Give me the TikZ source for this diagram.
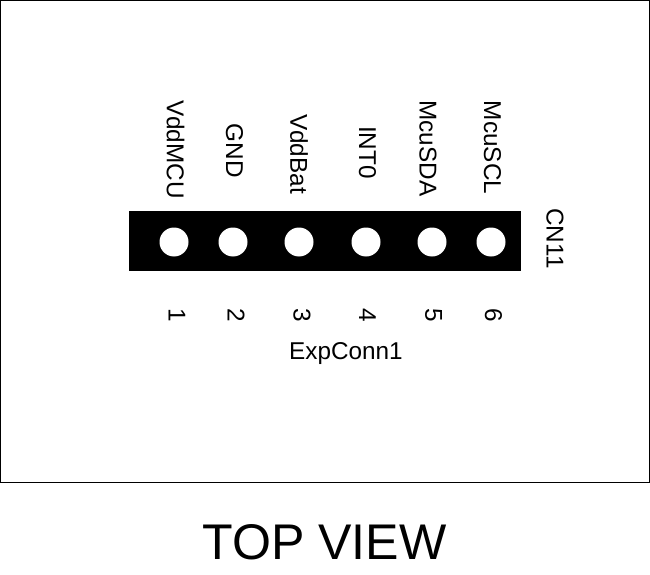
\documentclass[tikz,border=0pt]{standalone}
\usepackage{fontspec}
\setmainfont{Liberation Sans}
\tikzset{
 pin/.style={circle,fill=white,minimum size=29bp,inner sep=0pt},
 vlabel/.style={rotate=-90,font=\fontsize{24.4}{28}\selectfont,inner sep=0pt},
 hlabel/.style={font=\fontsize{24.4}{28}\selectfont,inner sep=0pt}
}
\begin{document}
\begin{tikzpicture}[x=1bp,y=-1bp]
\useasboundingbox (0,0) rectangle (650,575);
\node[draw=black,line width=0.8bp,minimum width=648bp,minimum height=481bp,inner sep=0pt,anchor=north west] (frame) at (0.5,0.5) {};
\node[fill=black,minimum width=392bp,minimum height=60bp,inner sep=0pt,anchor=north west] (body) at (129,211) {};
\foreach \n/\x/\tx/\ty/\t/\num/\nx in {a/174/175.5/149.5/VddMCU/1/177,b/233/234.5/151/GND/2/236,c/299/299/154/VddBat/3/302,d/366/367.5/152.5/INT0/4/367.5,e/432/428/148.5/McuSDA/5/433.5,f/491/492.5/147.5/McuSCL/6/493.5}{
 \node[pin] (p\n) at (\x,242) {};
 \node[vlabel] (t\n) at (\tx,\ty) {\t};
 \node[vlabel] (n\n) at (\nx,315) {\num};
}
\node[vlabel] (cn) at (555,238.5) {CN11};
\node[hlabel] (exp) at (346,354) {ExpConn1};
\node[font=\fontsize{50.3}{56}\selectfont,inner sep=0pt] (top) at (324.5,542) {TOP VIEW};
\end{tikzpicture}
\end{document}
